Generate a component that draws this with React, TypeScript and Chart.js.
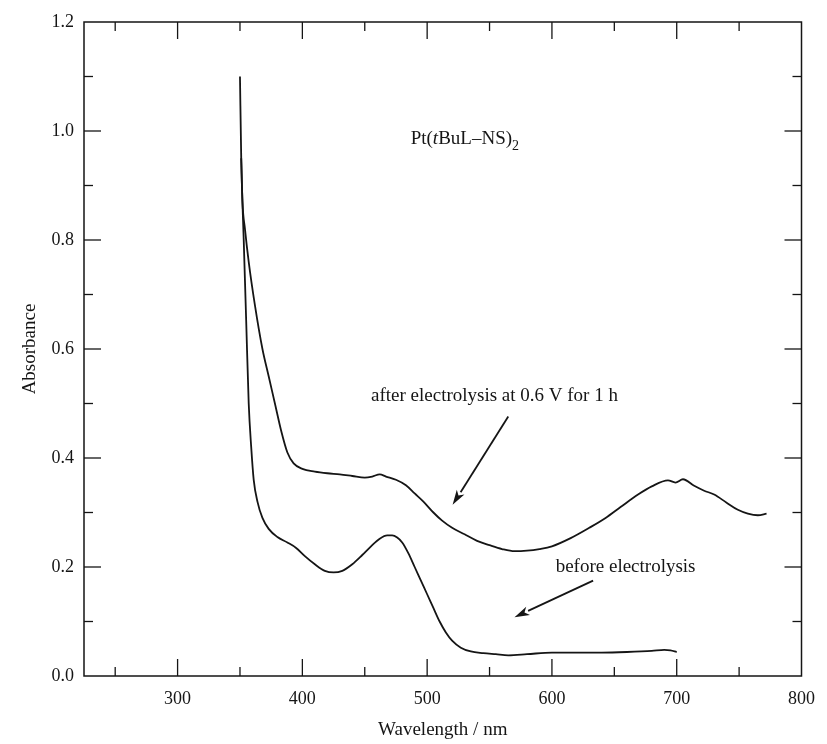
import React, { useEffect, useRef } from "react";
import { Chart, registerables } from "chart.js";

Chart.register(...registerables);

// ---- data (wavelength in nm, absorbance) ----
const BEFORE_NM = [
  350, 351, 353, 355, 357, 359, 361, 364, 368, 373, 380, 388, 395, 402, 410, 418, 425, 432, 440, 448,
  455, 462, 468, 472, 476, 480, 485, 490, 495, 500, 505, 510, 515, 520, 527, 535, 545, 555, 565, 580,
  600, 620, 640, 660, 680, 690, 695, 700,
];
const BEFORE_ABS = [
  1.1, 0.95, 0.8, 0.65, 0.5, 0.42, 0.36, 0.32, 0.29, 0.27, 0.255, 0.245, 0.235, 0.22, 0.205, 0.193, 0.19, 0.193, 0.205, 0.222,
  0.238, 0.252, 0.258, 0.258, 0.254, 0.245, 0.225, 0.2, 0.175, 0.15, 0.125, 0.1, 0.08, 0.065, 0.052, 0.045, 0.042, 0.04, 0.038, 0.04,
  0.043, 0.043, 0.043, 0.044, 0.046, 0.048, 0.047, 0.044,
];
const AFTER_NM = [
  351, 352, 354, 357, 362, 368, 373, 378, 383, 388, 393, 400, 410, 420, 430, 440, 450, 456, 462, 467,
  475, 483, 490, 497, 505, 512, 520, 530, 540, 550, 560, 570, 580, 590, 600, 615, 630, 643, 655, 669,
  680, 693, 699, 705, 714, 722, 730, 740, 749, 757, 765, 772,
];
const AFTER_ABS = [
  0.95, 0.87, 0.82, 0.76, 0.68, 0.6, 0.55, 0.5, 0.45, 0.41, 0.39, 0.38, 0.375, 0.372, 0.37, 0.367, 0.364, 0.366, 0.37, 0.366,
  0.36, 0.35, 0.335, 0.32, 0.3, 0.285, 0.272, 0.26, 0.248, 0.24, 0.233, 0.229, 0.23, 0.233, 0.238, 0.253, 0.272, 0.29, 0.31, 0.333,
  0.348, 0.359, 0.355, 0.361, 0.349, 0.34, 0.333, 0.318, 0.305, 0.298, 0.295, 0.298,
];

// ---- axes ----
const X_MIN = 225;
const X_MAX = 800;
const Y_MIN = 0;
const Y_MAX = 1.2;
const X_TICKS = [300, 400, 500, 600, 700, 800];
const X_MINOR = [250, 350, 450, 550, 650, 750];
const Y_TICKS = [0.0, 0.2, 0.4, 0.6, 0.8, 1.0, 1.2];
const Y_MINOR = [0.1, 0.3, 0.5, 0.7, 0.9, 1.1];
const X_TITLE = "Wavelength / nm";
const Y_TITLE = "Absorbance";

// ---- annotations ----
const TITLE_PARTS = [
  { text: "Pt(", italic: false, sub: false },
  { text: "t", italic: true, sub: false },
  { text: "BuL\u2013NS)", italic: false, sub: false },
  { text: "2", italic: false, sub: true },
];
const LABEL_AFTER = "after electrolysis at 0.6 V for 1 h";
const LABEL_BEFORE = "before electrolysis";

const FONT = '"Liberation Serif", "Times New Roman", serif';
const INK = "#151515";

const AREA = { left: 84, top: 22, right: 804, bottom: 676 };

const framePlugin = {
  id: "frameTicks",
  afterDatasetsDraw(chart: any) {
    const { ctx, chartArea } = chart;
    const { left, right, top, bottom } = chartArea;
    const xs = chart.scales.x;
    const ys = chart.scales.y;
    ctx.save();
    ctx.strokeStyle = INK;
    ctx.lineWidth = 1.5;
    ctx.strokeRect(left, top, right - left, bottom - top);
    ctx.lineWidth = 1.3;
    const seg = (x1: number, y1: number, x2: number, y2: number) => {
      ctx.beginPath();
      ctx.moveTo(x1, y1);
      ctx.lineTo(x2, y2);
      ctx.stroke();
    };
    const xt = (vals: number[], len: number) => {
      vals.forEach((v) => {
        const p = xs.getPixelForValue(v);
        if (p <= left + 1 || p >= right - 1) return;
        seg(p, bottom, p, bottom - len);
        seg(p, top, p, top + len);
      });
    };
    const yt = (vals: number[], len: number) => {
      vals.forEach((v) => {
        const p = ys.getPixelForValue(v);
        if (p <= top + 1 || p >= bottom - 1) return;
        seg(left, p, left + len, p);
        seg(right, p, right - len, p);
      });
    };
    xt(X_TICKS, 17);
    xt(X_MINOR, 9);
    yt(Y_TICKS, 17);
    yt(Y_MINOR, 9);
    ctx.restore();
  },
};

const annotationPlugin = {
  id: "annotations",
  afterDatasetsDraw(chart: any) {
    const { ctx } = chart;
    const xs = chart.scales.x;
    const ys = chart.scales.y;
    const X = (v: number) => xs.getPixelForValue(v);
    const Y = (v: number) => ys.getPixelForValue(v);
    ctx.save();
    ctx.fillStyle = INK;
    ctx.strokeStyle = INK;

    // compound label
    let cx = X(486.8);
    const base = Y(0.987) + 6;
    ctx.textBaseline = "alphabetic";
    ctx.textAlign = "left";
    TITLE_PARTS.forEach((p) => {
      const size = p.sub ? 14 : 19;
      ctx.font = `${p.italic ? "italic " : ""}${size}px ${FONT}`;
      ctx.fillText(p.text, cx, p.sub ? base + 6 : base);
      cx += ctx.measureText(p.text).width;
    });

    ctx.font = `19px ${FONT}`;
    ctx.textBaseline = "middle";
    ctx.fillText(LABEL_AFTER, X(455), Y(0.513));
    ctx.fillText(LABEL_BEFORE, X(603), Y(0.2));

    const arrow = (x1: number, y1: number, x2: number, y2: number) => {
      const ax = X(x1), ay = Y(y1), bx = X(x2), by = Y(y2);
      const ang = Math.atan2(by - ay, bx - ax);
      const hl = 15, hw = 4.5;
      const sx = bx - hl * Math.cos(ang), sy = by - hl * Math.sin(ang);
      ctx.lineWidth = 1.8;
      ctx.beginPath();
      ctx.moveTo(ax, ay);
      ctx.lineTo(sx, sy);
      ctx.stroke();
      ctx.beginPath();
      ctx.moveTo(bx, by);
      ctx.lineTo(sx + hw * Math.sin(ang), sy - hw * Math.cos(ang));
      ctx.lineTo(bx - (hl - 4) * Math.cos(ang), by - (hl - 4) * Math.sin(ang));
      ctx.lineTo(sx - hw * Math.sin(ang), sy + hw * Math.cos(ang));
      ctx.closePath();
      ctx.fill();
    };
    arrow(565, 0.476, 520.4, 0.314);
    arrow(633, 0.175, 570, 0.108);
    ctx.restore();
  },
};

export default function App() {
  const ref = useRef<HTMLCanvasElement | null>(null);

  useEffect(() => {
    const canvas = ref.current;
    if (!canvas) return;
    Chart.defaults.font.family = FONT;
    Chart.defaults.color = INK;

    const toPts = (xs: number[], ys: number[]) => xs.map((x, i) => ({ x, y: ys[i] }));

    const chart = new Chart(canvas, {
      type: "line",
      data: {
        datasets: [
          {
            label: "before electrolysis",
            data: toPts(BEFORE_NM, BEFORE_ABS),
            borderColor: INK,
            borderWidth: 1.8,
            pointRadius: 0,
            cubicInterpolationMode: "monotone",
          },
          {
            label: "after electrolysis",
            data: toPts(AFTER_NM, AFTER_ABS),
            borderColor: INK,
            borderWidth: 1.8,
            pointRadius: 0,
            cubicInterpolationMode: "monotone",
          },
        ],
      },
      options: {
        responsive: false,
        animation: false,
        events: [],
        layout: { padding: { left: 0, top: 22, right: 23, bottom: 0 } },
        plugins: { legend: { display: false }, tooltip: { enabled: false } },
        scales: {
          x: {
            type: "linear",
            min: X_MIN,
            max: X_MAX,
            grid: { display: false, drawTicks: false },
            border: { display: false },
            afterBuildTicks: (s: any) => {
              s.ticks = X_TICKS.map((v) => ({ value: v }));
            },
            afterFit: (s: any) => {
              s.height = 68;
            },
            ticks: {
              padding: 12,
              maxRotation: 0,
              font: { size: 18 },
              callback: (v: any) => String(v),
            },
            title: {
              display: true,
              text: X_TITLE,
              font: { size: 19 },
              padding: { top: 0, bottom: 3 },
            },
          },
          y: {
            type: "linear",
            min: Y_MIN,
            max: Y_MAX,
            grid: { display: false, drawTicks: false },
            border: { display: false },
            afterBuildTicks: (s: any) => {
              s.ticks = Y_TICKS.map((v) => ({ value: v }));
            },
            afterFit: (s: any) => {
              s.width = 84;
            },
            ticks: {
              padding: 10,
              font: { size: 18 },
              callback: (v: any) => Number(v).toFixed(1),
            },
            title: {
              display: true,
              text: Y_TITLE,
              font: { size: 19 },
              padding: { top: 19, bottom: 0 },
            },
          },
        },
      },
      plugins: [framePlugin, annotationPlugin],
    });

    for (let i = 0; i < 2; i++) {
      const a = chart.chartArea;
      const p: any = chart.options.layout!.padding;
      p.top += AREA.top - a.top;
      p.right += a.right - AREA.right;
      p.bottom += a.bottom - AREA.bottom;
      p.left += AREA.left - a.left;
      chart.update();
    }

    return () => chart.destroy();
  }, []);

  return (
    <div style={{ position: "fixed", left: 0, top: 0, width: 827, height: 744, background: "#fff" }}>
      <canvas ref={ref} width={827} height={744} style={{ display: "block" }} />
    </div>
  );
}
